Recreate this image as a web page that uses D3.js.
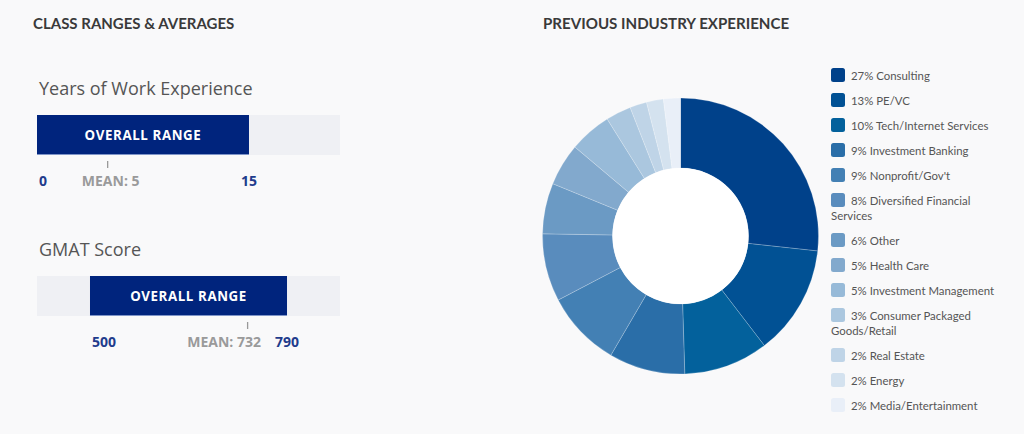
<!DOCTYPE html>
<html><head><meta charset="utf-8">
<script src="https://cdn.jsdelivr.net/npm/d3@7"></script>
<style>
html,body{margin:0;padding:0;background:#f9f9fa;}
svg{display:block;}
</style></head>
<body>
<svg id="chart" width="1024" height="434"></svg>
<script>
// ---- data ----
const rangeTitles = ["Years of Work Experience", "GMAT Score"];
const rangeMins = [0, 500];
const rangeMaxs = [15, 790];
const rangeMeans = [5, 732];
const trackDomains = [[0, 21.44], [422, 868]];

const industries = ["Consulting", "PE/VC", "Tech/Internet Services", "Investment Banking",
  "Nonprofit/Gov't", "Diversified Financial Services", "Other", "Health Care",
  "Investment Management", "Consumer Packaged Goods/Retail", "Real Estate", "Energy",
  "Media/Entertainment"];
const industryPct = [27, 13, 10, 9, 9, 8, 6, 5, 5, 3, 2, 2, 2];
const industryColors = ["#00418a", "#015194", "#03619c", "#2a6ea8", "#4380b4", "#598cbd",
  "#6b9ac4", "#82a9cd", "#97bad8", "#abc7df", "#bfd4e7", "#d4e2ef", "#e9eff8"];

const svg = d3.select("#chart");

// ---- section headers ----
svg.append("text").attr("x", 33).attr("y", 28.5).text("CLASS RANGES & AVERAGES")
  .attr("font-family", "Lato").attr("font-weight", 700).attr("font-size", 15)
  .attr("fill", "#3a3a3a");
svg.append("text").attr("x", 543).attr("y", 28.5).text("PREVIOUS INDUSTRY EXPERIENCE")
  .attr("font-family", "Lato").attr("font-weight", 700).attr("font-size", 15.1)
  .attr("fill", "#3a3a3a");

// ---- range bars ----
const blockTops = [115, 276];
rangeTitles.forEach((title, i) => {
  const top = blockTops[i];
  const x = d3.scaleLinear().domain(trackDomains[i]).range([37, 340]);
  const g = svg.append("g");
  g.append("text").attr("x", 39).attr("y", top - 20).text(title)
    .attr("font-family", "Open Sans").attr("font-size", 18).attr("fill", "#555");
  g.append("rect").attr("x", x(trackDomains[i][0])).attr("y", top)
    .attr("width", x(trackDomains[i][1]) - x(trackDomains[i][0])).attr("height", 40)
    .attr("fill", "#eff0f4");
  g.append("rect").attr("x", x(rangeMins[i])).attr("y", top)
    .attr("width", x(rangeMaxs[i]) - x(rangeMins[i])).attr("height", 40)
    .attr("fill", "#00247d");
  g.append("line").attr("x1", x(rangeMins[i])).attr("x2", x(rangeMaxs[i]))
    .attr("y1", top + 39.5).attr("y2", top + 39.5).attr("stroke", "#7f95c8").attr("stroke-width", 1);
  g.append("text").attr("x", (x(rangeMins[i]) + x(rangeMaxs[i])) / 2).attr("y", top + 24.5)
    .attr("text-anchor", "middle").text("OVERALL RANGE")
    .attr("font-family", "Open Sans").attr("font-weight", 700).attr("font-size", 13.3)
    .attr("letter-spacing", 0.6).attr("fill", "#fff");
  // labels
  g.append("text").attr("x", x(rangeMins[i]) + 2).attr("y", top + 71).text(rangeMins[i])
    .attr("font-family", "Open Sans").attr("font-weight", 700).attr("font-size", 14)
    .attr("fill", "#1f3c8c");
  const endLbl = g.append("text").attr("x", x(rangeMaxs[i])).attr("y", top + 71).text(rangeMaxs[i])
    .attr("text-anchor", "middle")
    .attr("font-family", "Open Sans").attr("font-weight", 700).attr("font-size", 14)
    .attr("fill", "#1f3c8c");
  const mx = x(rangeMeans[i]);
  g.append("line").attr("x1", mx).attr("x2", mx).attr("y1", top + 46).attr("y2", top + 53)
    .attr("stroke", "#999").attr("stroke-width", 1.3);
  const meanLbl = g.append("text").attr("x", mx + 3).attr("y", top + 71).text("MEAN: " + rangeMeans[i])
    .attr("text-anchor", "middle")
    .attr("font-family", "Open Sans").attr("font-weight", 700).attr("font-size", 14)
    .attr("fill", "#9a9a9a");
  // avoid overlap with end label
  const eb = endLbl.node().getBBox(), mb = meanLbl.node().getBBox();
  if (mb.x + mb.width > eb.x - 14) {
    meanLbl.attr("text-anchor", "end").attr("x", eb.x - 14);
  }
});

// ---- donut ----
const cx = 680.5, cy = 236, rOuter = 138, rInner = 68;
const pie = d3.pie().sort(null).value(d => d.v);
const data = industries.map((n, i) => ({ n, v: industryPct[i], c: industryColors[i] }));
const arc = d3.arc().innerRadius(rInner).outerRadius(rOuter);
const dg = svg.append("g").attr("transform", `translate(${cx},${cy})`);
dg.selectAll("path").data(pie(data)).join("path")
  .attr("d", arc).attr("fill", d => d.data.c)
  .attr("stroke", "rgba(255,255,255,0.35)").attr("stroke-width", 0.6);
dg.append("circle").attr("r", rInner).attr("fill", "#fff");

// ---- legend ----
const lg = svg.append("g");
let y = 75;
const maxRight = 1010;
const lfs = 11.4;
data.forEach(d => {
  lg.append("rect").attr("x", 831).attr("y", y - 7).attr("width", 14).attr("height", 14)
    .attr("rx", 2.5).attr("fill", d.c);
  const words = (d.v + "% " + d.n).split(" ");
  let lineX = 851, lineY = y + 4.5;
  let t = lg.append("text").attr("x", lineX).attr("y", lineY)
    .attr("font-family", "Lato").attr("font-size", lfs).attr("fill", "#555");
  let cur = [];
  words.forEach(w => {
    const test = cur.concat([w]).join(" ");
    t.text(test);
    if (cur.length && lineX + t.node().getComputedTextLength() > maxRight) {
      t.text(cur.join(" "));
      lineX = 831; lineY += 15;
      t = lg.append("text").attr("x", lineX).attr("y", lineY)
        .attr("font-family", "Lato").attr("font-size", lfs).attr("fill", "#555").text(w);
      cur = [w];
    } else {
      cur.push(w);
    }
  });
  y = lineY - 4.5 + 25;
});
</script>
</body></html>
